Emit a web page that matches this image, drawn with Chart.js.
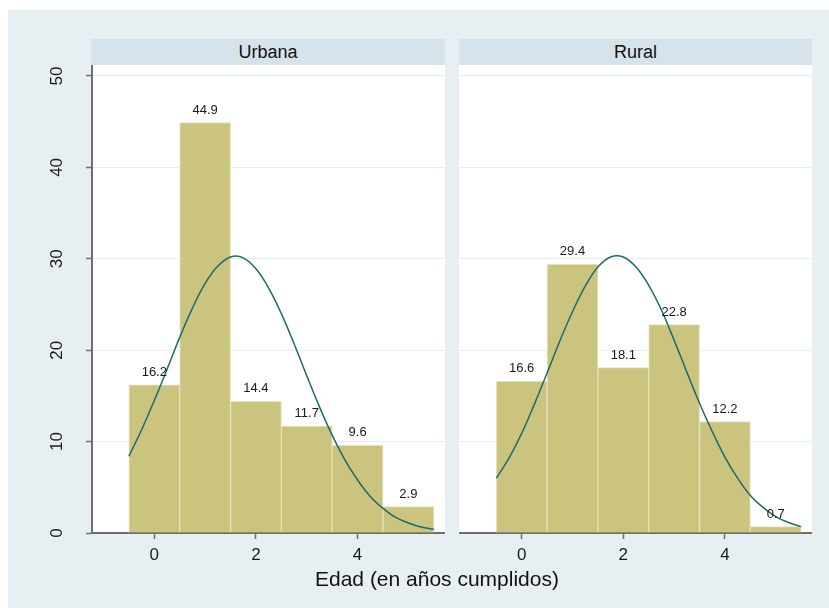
<!DOCTYPE html>
<html>
<head>
<meta charset="utf-8">
<script src="https://cdn.jsdelivr.net/npm/chart.js@4.4.1/dist/chart.umd.min.js"></script>
<style>
  body { margin: 0; background: #fff; font-family: "Liberation Sans", Arial, sans-serif; }
  #wrap { position: relative; width: 829px; height: 608px; overflow: hidden; }
  #bg { position: absolute; left: 8px; top: 10px; width: 821px; height: 598px; background: #e8eff2; }
  .head { position: absolute; top: 39px; height: 26px; line-height: 26px; background: #d7e3ea;
          text-align: center; font-size: 18px; color: #111; }
  .panel { position: absolute; background: #fff; }
  canvas { position: absolute; }
  #xtitle { position: absolute; left: 237px; width: 400px; top: 567px; text-align: center;
            font-size: 21px; color: #111; }
</style>
</head>
<body>
<div id="wrap">
  <div id="bg"></div>
  <div class="head" id="h0" style="left:91px;width:354px;"></div>
  <div class="head" id="h1" style="left:459px;width:353px;"></div>
  <div class="panel" style="left:92px;top:65px;width:353px;height:468px;"></div>
  <div class="panel" style="left:459px;top:65px;width:353px;height:468px;"></div>
  <canvas id="c0" width="437" height="510" style="left:8px;top:65px;"></canvas>
  <canvas id="c1" width="353" height="510" style="left:459px;top:65px;"></canvas>
  <div id="xtitle"></div>
</div>
<script>
// datos del histograma (porcentaje por edad)
var panelNames = ["Urbana", "Rural"];
var xTitle = "Edad (en años cumplidos)";
var edades = [0, 1, 2, 3, 4, 5];
var urbanaPct = [16.2, 44.9, 14.4, 11.7, 9.6, 2.9];
var ruralPct = [16.6, 29.4, 18.1, 22.8, 12.2, 0.7];

// curva normal
var curvaX = [-0.5, -0.25, 0, 0.25, 0.5, 0.75, 1, 1.25, 1.5, 1.75, 2, 2.25, 2.5,
              2.75, 3, 3.25, 3.5, 3.75, 4, 4.25, 4.5, 4.75, 5, 5.25, 5.5];
var urbanaCurva = [8.4, 11.3, 14.5, 17.9, 21.4, 24.6, 27.3, 29.2, 30.2, 30.1, 28.9, 26.8, 24.0,
                   20.7, 17.2, 13.8, 10.7, 8.0, 5.8, 4.0, 2.7, 1.7, 1.1, 0.65, 0.4];
var ruralCurva = [6.0, 8.2, 10.9, 14.1, 17.5, 21.0, 24.2, 27.0, 29.1, 30.2, 30.2, 29.1, 27.1,
                  24.4, 21.1, 17.6, 14.2, 11.1, 8.3, 6.0, 4.1, 2.8, 1.8, 1.15, 0.7];

var yTicks = [0, 10, 20, 30, 40, 50];
var xTicks = [0, 2, 4];

document.getElementById("h0").textContent = panelNames[0];
document.getElementById("h1").textContent = panelNames[1];
document.getElementById("xtitle").textContent = xTitle;

var FONT = "'Liberation Sans', Arial, sans-serif";

// etiquetas sobre las barras
var barLabels = {
  id: "barLabels",
  afterDatasetsDraw: function(chart) {
    var ctx = chart.ctx;
    var meta = chart.getDatasetMeta(1);
    var vals = chart.data.datasets[1].data;
    ctx.save();
    ctx.font = "13px " + FONT;
    ctx.fillStyle = "#1a1a1a";
    ctx.textAlign = "center";
    ctx.textBaseline = "bottom";
    meta.data.forEach(function(el, i) {
      ctx.fillText(vals[i].y.toFixed(1), el.x, el.y - 6);
    });
    ctx.restore();
  }
};

function makeChart(id, pct, curva, showY, xmin, xmax) {
  var ctx = document.getElementById(id).getContext("2d");
  return new Chart(ctx, {
    type: "bar",
    data: {
      datasets: [
        {
          type: "line",
          order: 0,
          data: curvaX.map(function(x, i) { return { x: x, y: curva[i] }; }),
          borderColor: "#1f6b6b",
          borderWidth: 1.5,
          pointRadius: 0,
          tension: 0.4,
          fill: false
        },
        {
          type: "bar",
          order: 1,
          data: edades.map(function(x, i) { return { x: x, y: pct[i] }; }),
          backgroundColor: "#cbc47f",
          borderColor: "#e6e1b8",
          borderWidth: 1,
          barPercentage: 1.0,
          categoryPercentage: 1.0,
          grouped: false
        }
      ]
    },
    options: {
      responsive: false,
      devicePixelRatio: 1,
      animation: false,
      layout: { padding: 0 },
      plugins: { legend: { display: false }, tooltip: { enabled: false } },
      scales: {
        x: {
          type: "linear",
          min: xmin,
          max: xmax,
          offset: false,
          afterBuildTicks: function(s) { s.ticks = xTicks.map(function(v) { return { value: v }; }); },
          afterFit: function(s) { s.height = 42; s.paddingLeft = 0; s.paddingRight = 0; },
          grid: { offset: false, drawOnChartArea: false, drawTicks: true, tickLength: 6, tickColor: "#6e6e6e", tickWidth: 1.5 },
          border: { display: true, color: "#6e6e6e", width: 2 },
          ticks: { font: { family: FONT, size: 17 }, color: "#1a1a1a", padding: 6, maxRotation: 0 }
        },
        y: {
          min: 0,
          max: 51.2,
          afterBuildTicks: function(s) { s.ticks = yTicks.map(function(v) { return { value: v }; }); },
          afterFit: function(s) { s.width = showY ? 84 : 0; s.paddingTop = 0; s.paddingBottom = 0; },
          grid: { color: "#e8eff2", lineWidth: 1, drawTicks: showY, tickLength: 6, tickColor: "#6e6e6e", tickWidth: 1.5 },
          border: { display: showY, color: "#6e6e6e", width: 2 },
          ticks: {
            display: showY,
            font: { family: FONT, size: 17 },
            color: "#1a1a1a",
            minRotation: 90,
            maxRotation: 90,
            crossAlign: "center",
            padding: 19
          }
        }
      }
    },
    plugins: [barLabels]
  });
}

makeChart("c0", urbanaPct, urbanaCurva, true, -1.226, 5.72);
makeChart("c1", ruralPct, ruralCurva, false, -1.234, 5.714);
</script>
</body>
</html>
